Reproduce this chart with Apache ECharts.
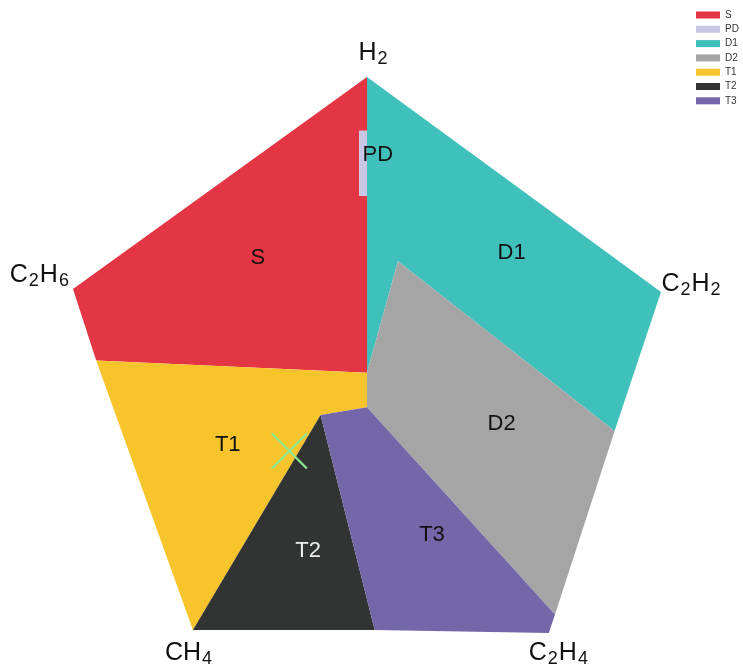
<!DOCTYPE html>
<html>
<head>
<meta charset="utf-8">
<script src="https://cdn.jsdelivr.net/npm/echarts@6/dist/echarts.min.js"></script>
<style>html,body{margin:0;padding:0;background:#fff}#c{width:743px;height:668px}</style>
</head>
<body>
<div id="c"></div>
<script>
// ---- Data (Duval pentagon zone vertices, in pentagon units) ----
const zoneNames = ['S', 'PD', 'D1', 'D2', 'T1', 'T2', 'T3'];
const zoneS  = [[0, 1.5], [-35, 3.1], [-38, 12.4], [0, 40], [0, 33], [-1, 33], [-1, 24.5], [0, 24.5]];
const zonePD = [[0, 33], [-1, 33], [-1, 24.5], [0, 24.5]];
const zoneD1 = [[0, 40], [38, 12], [32, -6.1], [4, 16], [0, 1.5]];
const zoneD2 = [[4, 16], [32, -6.1], [24.3, -30], [0, -3], [0, 1.5]];
const zoneT1 = [[-6, -4], [-22.5, -32], [-35, 3.1], [0, 1.5], [0, -3]];
const zoneT2 = [[-6, -4], [1, -32], [-22.5, -32]];
const zoneT3 = [[0, -3], [24.3, -30], [23.5, -32.4], [1, -32], [-6, -4]];
const zoneLabelPos = [[-14.1, 16.5], [1.4, 29.8], [18.7, 17.1], [17.4, -5.2], [-18.0, -7.9], [-7.6, -21.7], [8.4, -19.6]];
const vertexLabels = ['H2', 'C2H2', 'C2H4', 'CH4', 'C2H6'];
const vertexLabelPos = [[0.84, 43.1], [38.05, 13.0], [24.8, -35.0], [-23.0, -35.0], [-38.4, 14.2]];
const samplePoint = [-10.04, -8.7];

// ---- Styles ----
const zoneColors = ['#e43544', '#c8c8e6', '#40c0bb', '#a5a5a6', '#f8c42c', '#323433', '#7366a9'];
const zoneLabelColors = ['#111', '#111', '#111', '#111', '#111', '#eeeeee', '#111'];
const vertexAlign = ['center', 'left', 'center', 'center', 'right'];
const zones = [zoneS, zonePD, zoneD1, zoneD2, zoneT1, zoneT2, zoneT3];
const FONT = '"Liberation Sans", Arial, Helvetica, sans-serif';

function chem(s) {
  return s.replace(/([A-Za-z]+)|(\d+)/g, function (m, a, d) {
    return a ? '{n|' + a + '}' : '{s|' + d + '}';
  });
}

const series = zones.map(function (pts, i) {
  return {
    type: 'custom',
    name: zoneNames[i],
    coordinateSystem: 'cartesian2d',
    data: pts,
    encode: { x: 0, y: 1 },
    itemStyle: { color: zoneColors[i] },
    silent: true,
    z: 2 + i,
    renderItem: function (params, api) {
      if (params.dataIndex !== 0) return null;
      return {
        type: 'polygon',
        shape: { points: pts.map(function (p) { return api.coord(p); }) },
        style: { fill: zoneColors[i], stroke: null }
      };
    }
  };
});

series.push({
  type: 'custom',
  name: 'zoneLabels',
  coordinateSystem: 'cartesian2d',
  data: zoneLabelPos,
  encode: { x: 0, y: 1 },
  z: 20,
  silent: true,
  renderItem: function (params, api) {
    const c = api.coord([api.value(0), api.value(1)]);
    return {
      type: 'text',
      style: {
        x: c[0], y: c[1], text: zoneNames[params.dataIndex],
        align: 'center', verticalAlign: 'middle',
        fill: zoneLabelColors[params.dataIndex],
        fontSize: 22, fontFamily: FONT
      }
    };
  }
});

series.push({
  type: 'custom',
  name: 'vertexLabels',
  coordinateSystem: 'cartesian2d',
  data: vertexLabelPos,
  encode: { x: 0, y: 1 },
  z: 20,
  silent: true,
  renderItem: function (params, api) {
    const c = api.coord([api.value(0), api.value(1)]);
    return {
      type: 'text',
      style: {
        x: c[0], y: c[1], text: chem(vertexLabels[params.dataIndex]),
        align: vertexAlign[params.dataIndex], verticalAlign: 'middle',
        rich: {
          n: { fontSize: 25, lineHeight: 30, verticalAlign: 'middle', fontFamily: FONT, fill: '#111' },
          s: { fontSize: 18, lineHeight: 30, verticalAlign: 'bottom', fontFamily: FONT, fill: '#111', padding: [0, 1, 0, 1] }
        }
      }
    };
  }
});

series.push({
  type: 'custom',
  name: 'sample',
  coordinateSystem: 'cartesian2d',
  data: [samplePoint],
  encode: { x: 0, y: 1 },
  z: 30,
  silent: true,
  renderItem: function (params, api) {
    const c = api.coord([api.value(0), api.value(1)]);
    const h = 17.5;
    const st = { stroke: '#8fe98f', lineWidth: 2.2 };
    return {
      type: 'group',
      children: [
        { type: 'line', shape: { x1: c[0] - h, y1: c[1] - h, x2: c[0] + h, y2: c[1] + h }, style: st },
        { type: 'line', shape: { x1: c[0] - h, y1: c[1] + h, x2: c[0] + h, y2: c[1] - h }, style: st }
      ]
    };
  }
});

const chart = echarts.init(document.getElementById('c'), null, { renderer: 'canvas' });
chart.setOption({
  animation: false,
  backgroundColor: '#ffffff',
  grid: { left: 73, right: 82, top: 77, bottom: 35, containLabel: false },
  xAxis: { type: 'value', min: -38, max: 38, show: false },
  yAxis: { type: 'value', min: -32.4, max: 40, show: false },
  legend: {
    data: zoneNames,
    orient: 'vertical',
    left: 696, top: 10,
    padding: 0,
    itemWidth: 24, itemHeight: 7, itemGap: 4.3,
    icon: 'rect',
    textStyle: { fontSize: 10, color: '#333', fontFamily: FONT },
    selectedMode: false
  },
  series: series
});
</script>
</body>
</html>
